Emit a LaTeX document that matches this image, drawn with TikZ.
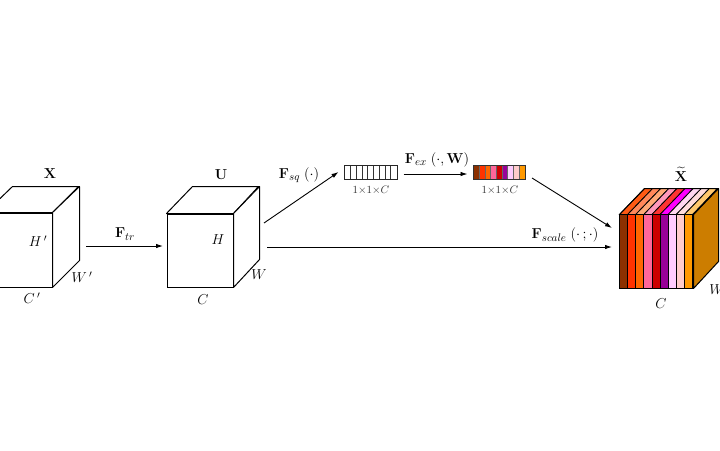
\documentclass[tikz,border=0pt]{standalone}
\usepackage{amsmath}
\usetikzlibrary{arrows.meta,calc}
\definecolor{cA}{RGB}{140,48,0}
\definecolor{cB}{RGB}{255,51,0}
\definecolor{cC}{RGB}{255,102,0}
\definecolor{cD}{RGB}{255,102,153}
\definecolor{cE}{RGB}{204,0,0}
\definecolor{cF}{RGB}{153,0,153}
\definecolor{cG}{RGB}{255,204,255}
\definecolor{cH}{RGB}{255,204,204}
\definecolor{cI}{RGB}{255,153,0}
\definecolor{tA}{RGB}{255,90,20}
\definecolor{tB}{RGB}{255,136,90}
\definecolor{tC}{RGB}{255,170,120}
\definecolor{tD}{RGB}{255,153,187}
\definecolor{tE}{RGB}{255,51,51}
\definecolor{tF}{RGB}{255,0,255}
\definecolor{tG}{RGB}{255,215,240}
\definecolor{tH}{RGB}{255,220,220}
\definecolor{tI}{RGB}{255,200,110}
\definecolor{sideC}{RGB}{204,125,0}
\tikzset{
  face/.style={draw=black, line width=1pt, fill=white, inner sep=0pt},
  edge/.style={draw=black, line width=1pt, line join=round},
  cell/.style={draw=black!80, line width=0.5pt},
  arr/.style={draw=black, line width=0.9pt, -{Latex[length=7pt,width=4.5pt]}},
  lbl/.style={font=\fontsize{15.5}{18}\selectfont, inner sep=0pt},
  cubelbl/.style={font=\fontsize{14}{16}\selectfont, inner sep=0pt},
  dimlbl/.style={font=\fontsize{11}{13}\selectfont, text=black!80, inner sep=0pt}
}
\begin{document}
\begin{tikzpicture}[x=1pt,y=-1pt]
\clip (0,0) rectangle (720,450);
\fill[white] (0,0) rectangle (720,450);

% ---- cube X
\node[face, minimum width=66pt, minimum height=74pt] (X) at (19,250) {};
\draw[edge, fill=white] (X.north west) -- ++(27,-26) -- ++(66,0) -- (X.north east) -- cycle;
\draw[edge, fill=white] (X.north east) -- ++(27,-26) -- ++(0,74) -- (X.south east) -- cycle;
\node[cubelbl] (Xl) at (50,174) {$\mathbf{X}$};
\node[cubelbl] (Xh) at (38,241) {$H\,'$};
\node[cubelbl] (Xw) at (82,277) {$W\,'$};
\node[cubelbl] (Xc) at (32,298) {$C\,'$};

% ---- cube U
\node[face, minimum width=66pt, minimum height=73pt] (U) at (200,250.5) {};
\draw[edge, fill=white] (U.north west) -- ++(26,-27) -- ++(66,0) -- (U.north east) -- cycle;
\draw[edge, fill=white] (U.north east) -- ++(26,-27) -- ++(0,73) -- (U.south east) -- cycle;
\node[cubelbl] (Ul) at (221,175) {$\mathbf{U}$};
\node[cubelbl] (Uh) at (218,240) {$H$};
\node[cubelbl] (Uw) at (259,275) {$W$};
\node[cubelbl] (Uc) at (203,300) {$C$};

% ---- vector 1
\node[face, draw=none, minimum width=52pt, minimum height=13pt] (v1) at (371,172.5) {};
\foreach \i in {1,...,8} {
  \draw[cell] ($(v1.north west)+(\i*52/9,0)$) -- ($(v1.south west)+(\i*52/9,0)$);
}
\draw[line width=0.7pt, black!85] (v1.north west) rectangle (v1.south east);
\node[dimlbl] (v1l) at (371,190) {$1{\times}1{\times}C$};

% ---- vector 2
\node[face, draw=none, minimum width=51pt, minimum height=13pt] (v2) at (499.5,172.5) {};
\foreach \c [count=\i from 0] in {cA,cB,cC,cD,cE,cF,cG,cH,cI} {
  \fill[\c] ($(v2.north west)+(\i*51/9,0)$) rectangle ($(v2.south west)+(\i*51/9+51/9,0)$);
  \draw[cell, black!60] ($(v2.north west)+(\i*51/9,0)$) -- ($(v2.south west)+(\i*51/9,0)$);
}
\draw[line width=0.7pt, black!80] (v2.north west) rectangle (v2.south east);
\node[dimlbl] (v2l) at (500,190) {$1{\times}1{\times}C$};

% ---- final cube
\node[face, minimum width=73pt, minimum height=73pt] (Y) at (656.5,251.5) {};
\foreach \c/\t [count=\i from 0] in {cA/tA,cB/tB,cC/tC,cD/tD,cE/tE,cF/tF,cG/tG,cH/tH,cI/tI} {
  \filldraw[fill=\c, draw=black, line width=0.8pt] ($(Y.north west)+(\i*73/9,0)$) rectangle ($(Y.south west)+(\i*73/9+73/9,0)$);
  \filldraw[fill=\t, draw=black, line width=0.8pt] ($(Y.north west)+(\i*73/9,0)$) -- ++(25,-26) -- ++(73/9,0) -- ($(Y.north west)+(\i*73/9+73/9,0)$) -- cycle;
}
\draw[edge, fill=sideC] (Y.north east) -- ++(25,-26) -- ++(0,73) -- (Y.south east) -- cycle;
\draw[edge] (Y.north west) rectangle (Y.south east);
\draw[edge] (Y.north west) -- ++(25,-26) -- ++(73,0) -- (Y.north east);
\node[cubelbl] (Yl) at (681,174) {$\widetilde{\mathbf{X}}$};
\node[cubelbl] (Yw) at (717,290) {$W$};
\node[cubelbl] (Yc) at (661,304) {$C$};

% ---- connectors
\coordinate (p1) at (86,246);
\coordinate (p2) at (163,246);
\draw[arr] (p1) -- (p2);
\node[lbl] (ftr) at (125,234) {$\mathbf{F}_{tr}$};

\coordinate (q1) at (264,223);
\coordinate (q2) at ($(v1.west)+(-6,-0.5)$);
\draw[arr] (q1) -- (q2);
\node[lbl] (fsq) at (299,175) {$\mathbf{F}_{sq}\;(\cdot)$};

\coordinate (r1) at ($(v1.east)+(6,1.5)$);
\coordinate (r2) at ($(v2.west)+(-6,1.5)$);
\draw[arr] (r1) -- (r2);
\node[lbl] (fex) at (437,160) {$\mathbf{F}_{ex}\;(\cdot,\mathbf{W})$};

\coordinate (s1) at (532,178);
\coordinate (s2) at (612,228);
\draw[arr] (s1) -- (s2);

\coordinate (t1) at (267,247);
\coordinate (t2) at (612,247);
\draw[arr] (t1) -- (t2);
\node[lbl] (fsc) at (565,235) {$\mathbf{F}_{scale}\;(\cdot\,;\cdot)$};
\end{tikzpicture}
\end{document}
